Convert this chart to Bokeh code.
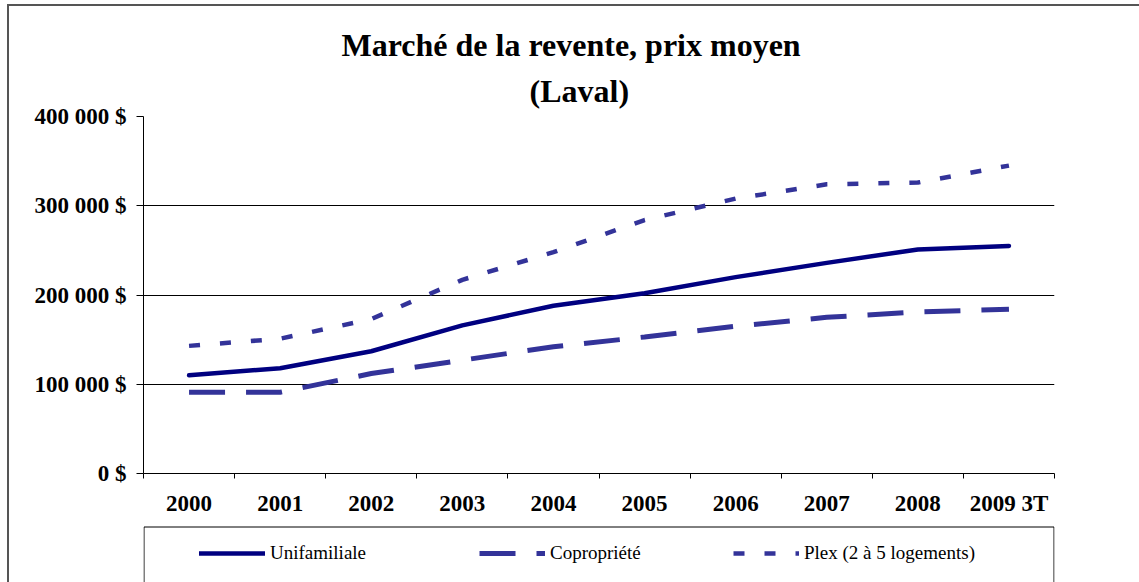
from bokeh.plotting import figure
from bokeh.models import (Range1d, FixedTicker, Legend, LegendItem, BoxAnnotation, Title)
from bokeh.layouts import column
from bokeh.embed import file_html
from bokeh.resources import INLINE

# ---- data ----
categories = ["2000", "2001", "2002", "2003", "2004", "2005", "2006", "2007", "2008", "2009 3T"]
unifamiliale = [110000, 118000, 137000, 166000, 188000, 202000, 220000, 236000, 251000, 255000]
copropriete = [91000, 91000, 112000, 127000, 142000, 153000, 165000, 175000, 181000, 184000]
plex = [143000, 151000, 173000, 217000, 248000, 284000, 308000, 324000, 326000, 345000]
y_ticks = [0, 100000, 200000, 300000, 400000]
y_tick_labels = ["0 $", "100 000 $", "200 000 $", "300 000 $", "400 000 $"]
series_names = ["Unifamiliale", "Copropriété", "Plex (2 à 5 logements)"]
title_lines = ["Marché de la revente, prix moyen", "(Laval)"]

SERIF = "Liberation Serif"
styles = [
    dict(line_color="#000080", line_width=4.5, line_join="round", line_cap="round"),
    dict(line_color="#333399", line_width=5, line_dash="36 21"),
    dict(line_color="#333399", line_width=4.5, line_dash="11 20"),
]

W = 1130
HM, HL = 519, 57
FL, FR, FT, FB = 134, 1045, 110, 467   # frame of main chart (canvas px)

n = len(categories)
xs = [i + 0.5 for i in range(n)]

p = figure(width=W, height=HM, output_backend="svg", toolbar_location=None,
           x_range=Range1d(0, n), y_range=Range1d(0, 400000),
           min_border_left=FL, min_border_right=W - FR,
           min_border_top=FT, min_border_bottom=HM - FB)
p.title = None
p.outline_line_color = None

# x axis
xa = p.xaxis[0]
xa.ticker = FixedTicker(ticks=xs, minor_ticks=list(range(n + 1)))
xa.major_label_overrides = {x: c for x, c in zip(xs, categories)}
xa.major_tick_line_color = None
xa.major_tick_out = 0
xa.major_tick_in = 0
xa.minor_tick_out = 5
xa.minor_tick_in = 0
xa.minor_tick_line_color = "black"
xa.axis_line_color = "black"
xa.major_label_standoff = 12
xa.major_label_text_font = SERIF
xa.major_label_text_font_style = "bold"
xa.major_label_text_font_size = "23px"
xa.major_label_text_color = "black"

# y axis
ya = p.yaxis[0]
ya.ticker = FixedTicker(ticks=y_ticks, minor_ticks=[])
ya.major_label_overrides = {t: l for t, l in zip(y_ticks, y_tick_labels)}
ya.major_tick_out = 7
ya.major_tick_in = 0
ya.major_tick_line_color = "black"
ya.minor_tick_line_color = None
ya.axis_line_color = "black"
ya.major_label_standoff = 10
ya.major_label_text_font = SERIF
ya.major_label_text_font_style = "bold"
ya.major_label_text_font_size = "23px"
ya.major_label_text_color = "black"

p.xgrid.grid_line_color = None
p.ygrid.grid_line_color = "black"
p.ygrid.grid_line_width = 1
p.ygrid.ticker = FixedTicker(ticks=y_ticks)

# series
series = [unifamiliale, copropriete, plex]
for vals, st in zip(series, styles):
    p.line(xs, vals, **st)

# two-line title (left aligned with offsets so it sits where the reference has it)
t2 = Title(text=title_lines[1], align="left", offset=386, standoff=16,
           text_font=SERIF, text_font_style="bold", text_font_size="32px", text_color="black")
t1 = Title(text=title_lines[0], align="left", offset=198, standoff=0,
           text_font=SERIF, text_font_style="bold", text_font_size="32px", text_color="black")
p.add_layout(t2, "above")
p.add_layout(t1, "above")

# ---- legend strip (frame aligned with the chart's frame; data units = canvas px) ----
q = figure(width=W, height=HL, output_backend="svg", toolbar_location=None,
           x_range=Range1d(FL, FR), y_range=Range1d(HL, 0),
           min_border_left=FL, min_border_right=W - FR, min_border_top=0, min_border_bottom=0)
q.title = None
q.axis.visible = False
q.grid.visible = False
q.outline_line_color = None
q.add_layout(BoxAnnotation(left=FL + 0.5, right=FR - 0.5, top=1.5, bottom=HL + 20,
                           fill_color=None, fill_alpha=0, line_color="black",
                           line_alpha=1.0, line_width=1))

item_h = 26
row_top = 15
offsets = [56, 336, 590]
nan = float("nan")
for st, name, ox in zip(styles, series_names, offsets):
    r = q.line([nan], [nan], **st)
    leg = Legend(items=[LegendItem(label=name, renderers=[r])],
                 location=(ox, HL - row_top - item_h),
                 orientation="horizontal", padding=0, margin=0, spacing=0,
                 glyph_width=66, glyph_height=item_h, label_height=item_h,
                 label_standoff=5, border_line_color=None, background_fill_alpha=0,
                 label_text_font=SERIF, label_text_font_size="19px",
                 label_text_color="black")
    q.add_layout(leg, "center")

layout = column(p, q, spacing=0,
                styles={"margin-left": "7px", "margin-top": "4px",
                        "border-left": "2px solid #555555", "border-top": "2px solid #555555"})

open("out.html", "w").write(file_html(layout, INLINE))
